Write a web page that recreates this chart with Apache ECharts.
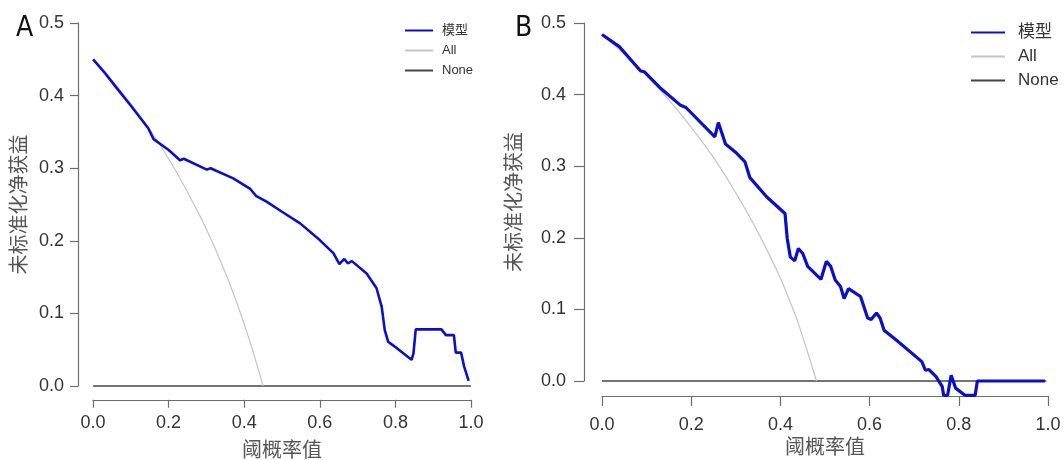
<!DOCTYPE html>
<html>
<head>
<meta charset="utf-8">
<script src="https://cdn.jsdelivr.net/npm/echarts@6/dist/echarts.min.js"></script>
<style>
  html, body { margin: 0; padding: 0; background: #fff; }
  #main { width: 1064px; height: 460px; }
</style>
</head>
<body>
<div id="main"></div>
<script>
// panel A: threshold probability vs net benefit
const modelAX = [0.000, 0.030, 0.060, 0.100, 0.146, 0.160, 0.200, 0.230, 0.240, 0.301, 0.311, 0.371, 0.415, 0.431, 0.459, 0.500, 0.548, 0.600, 0.636, 0.652, 0.665, 0.674, 0.685, 0.724, 0.750, 0.764, 0.772, 0.781, 0.794, 0.843, 0.848, 0.854, 0.922, 0.934, 0.955, 0.960, 0.974, 0.982, 0.994];
const modelAY = [0.450, 0.432, 0.412, 0.386, 0.355, 0.340, 0.325, 0.311, 0.313, 0.298, 0.300, 0.286, 0.272, 0.262, 0.254, 0.240, 0.224, 0.201, 0.183, 0.168, 0.175, 0.169, 0.172, 0.155, 0.135, 0.109, 0.077, 0.061, 0.056, 0.036, 0.045, 0.078, 0.078, 0.070, 0.070, 0.046, 0.046, 0.027, 0.007];
const allAX = [0.00, 0.05, 0.10, 0.15, 0.20, 0.25, 0.30, 0.35, 0.38, 0.40, 0.42, 0.44, 0.45];
const allAY = [0.450, 0.421, 0.389, 0.353, 0.313, 0.267, 0.216, 0.156, 0.115, 0.085, 0.053, 0.018, 0.000];

// panel B
const modelBX = [0.000, 0.039, 0.087, 0.095, 0.130, 0.177, 0.189, 0.254, 0.262, 0.278, 0.300, 0.322, 0.333, 0.371, 0.412, 0.417, 0.424, 0.434, 0.442, 0.452, 0.463, 0.493, 0.505, 0.515, 0.525, 0.537, 0.545, 0.555, 0.582, 0.598, 0.606, 0.618, 0.626, 0.635, 0.663, 0.720, 0.728, 0.736, 0.752, 0.766, 0.769, 0.778, 0.786, 0.796, 0.817, 0.840, 0.845, 0.997];
const modelBY = [0.484, 0.467, 0.433, 0.432, 0.410, 0.385, 0.382, 0.341, 0.361, 0.331, 0.320, 0.306, 0.284, 0.257, 0.234, 0.199, 0.173, 0.168, 0.185, 0.178, 0.160, 0.142, 0.167, 0.160, 0.141, 0.132, 0.115, 0.129, 0.118, 0.088, 0.086, 0.095, 0.088, 0.071, 0.057, 0.027, 0.015, 0.016, 0.006, -0.008, -0.020, -0.020, 0.008, -0.010, -0.020, -0.020, 0.000, 0.000];
const allBX = [0.00, 0.05, 0.10, 0.15, 0.20, 0.25, 0.30, 0.35, 0.40, 0.42, 0.44, 0.46, 0.483];
const allBY = [0.484, 0.457, 0.427, 0.393, 0.355, 0.313, 0.264, 0.209, 0.146, 0.116, 0.084, 0.046, 0.000];

const noneX = [0, 1];
const noneY = [0, 0];

const zip = (xs, ys) => xs.map((x, i) => [x, ys[i]]);

const axisColor = '#6e6e6e';
const labelFont = { fontFamily: 'Liberation Sans, Arial, sans-serif', fontSize: 18, color: '#333' };
const titleFont = { fontFamily: 'Noto Sans CJK SC, sans-serif', fontSize: 20, color: '#555' };
const panelFont = { fontFamily: 'Liberation Sans Narrow, DejaVu Sans Condensed, sans-serif', fontSize: 28, fontWeight: 'normal', color: '#111' };

function hiddenAxis(grid, min, max) {
    return { type: 'value', gridIndex: grid, min: min, max: max, show: false };
}

function shownAxis(grid, max, interval, name, gap, labelMargin, tickLen) {
    return {
        type: 'value', gridIndex: grid, min: 0, max: max, interval: interval,
        name: name, nameLocation: 'middle', nameGap: gap, nameTextStyle: titleFont,
        axisLine: { show: true, lineStyle: { color: axisColor, width: 1.2 } },
        axisTick: { show: true, length: tickLen, lineStyle: { color: axisColor, width: 1.2 } },
        axisLabel: Object.assign({ margin: labelMargin, formatter: v => v.toFixed(1) }, labelFont),
        splitLine: { show: false }
    };
}

function lines(xi, yi, mx, my, ax, ay, widthModel) {
    return [
        { name: 'None', type: 'line', xAxisIndex: xi, yAxisIndex: yi, data: zip(noneX, noneY),
          symbol: 'none', color: '#454545', lineStyle: { color: '#454545', width: 1.5 } },
        { name: 'All', type: 'line', xAxisIndex: xi, yAxisIndex: yi, data: zip(ax, ay), smooth: 0.2,
          symbol: 'none', color: '#c4c4c4', lineStyle: { color: '#c4c4c4', width: 1.2 } },
        { name: '模型', type: 'line', xAxisIndex: xi, yAxisIndex: yi, data: zip(mx, my),
          symbol: 'none', color: '#0a10c8', lineStyle: { color: '#0a10c8', width: widthModel } }
    ];
}

const chart = echarts.init(document.getElementById('main'));
chart.setOption({
    animation: false,
    title: [
        { text: 'A', left: 11, top: 10, textStyle: panelFont },
        { text: 'B', left: 510, top: 10, textStyle: panelFont }
    ],
    legend: [
        { orient: 'vertical', left: 399, top: 19, itemWidth: 28, itemHeight: 14, itemGap: 7,
          itemStyle: { opacity: 0 },
          data: ['模型', 'All', 'None'],
          textStyle: { fontFamily: 'Liberation Sans, Noto Sans CJK SC, sans-serif', fontSize: 13, color: '#333', padding: [0, 0, 0, 4] } },
        { orient: 'vertical', left: 965, top: 19, itemWidth: 34, itemHeight: 16, itemGap: 7,
          itemStyle: { opacity: 0 },
          data: ['模型', 'All', 'None'],
          textStyle: { fontFamily: 'Liberation Sans, Noto Sans CJK SC, sans-serif', fontSize: 17, color: '#333', padding: [0, 0, 0, 8] } }
    ],
    grid: [
        { left: 78, top: 8.5, width: 408, height: 392 },
        { left: 78, top: 23, width: 10, height: 363 },
        { left: 93, top: 399.5, width: 378, height: 1 },
        { left: 584.2, top: 8.7, width: 481.6, height: 386.6 },
        { left: 584, top: 23, width: 10, height: 358 },
        { left: 602, top: 395, width: 446, height: 1 }
    ],
    xAxis: [
        hiddenAxis(0, -0.04, 1.04),
        hiddenAxis(1, 0, 1),
        shownAxis(2, 1, 0.2, '阈概率值', 40, 14, 8),
        hiddenAxis(3, -0.04, 1.04),
        hiddenAxis(4, 0, 1),
        shownAxis(5, 1, 0.2, '阈概率值', 40, 20, 10)
    ],
    yAxis: [
        hiddenAxis(0, -0.02, 0.52),
        shownAxis(1, 0.5, 0.1, '未标准化净获益', 50, 14, 8),
        hiddenAxis(2, 0, 1),
        hiddenAxis(3, -0.02, 0.52),
        shownAxis(4, 0.5, 0.1, '未标准化净获益', 61, 18, 10),
        hiddenAxis(5, 0, 1)
    ],
    series: lines(0, 0, modelAX, modelAY, allAX, allAY, 2.6)
        .concat(lines(3, 3, modelBX, modelBY, allBX, allBY, 3.2))
});
</script>
</body>
</html>
